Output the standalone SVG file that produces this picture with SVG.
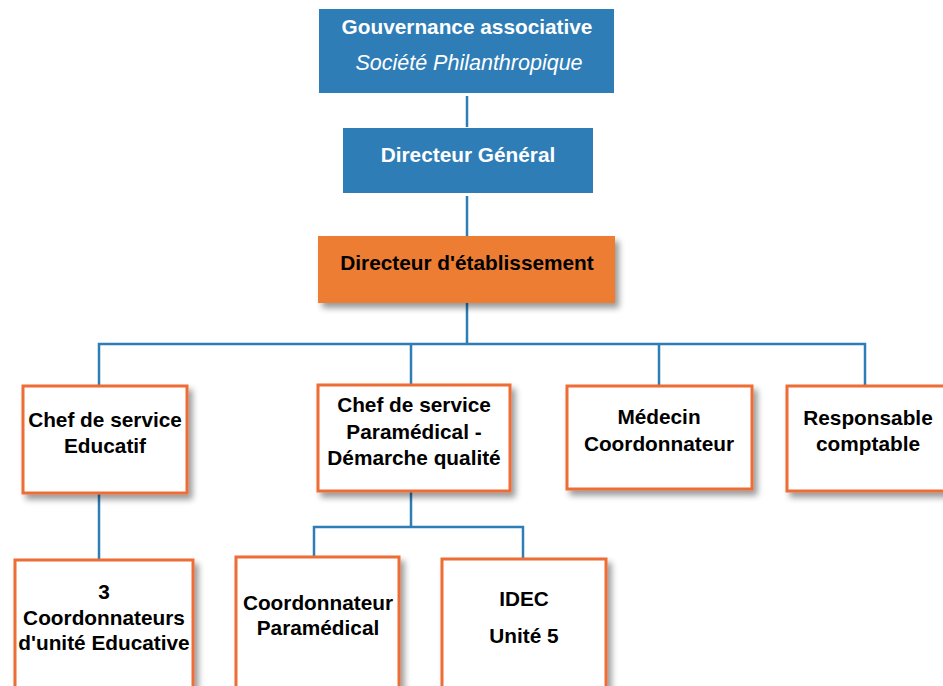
<svg xmlns="http://www.w3.org/2000/svg" width="943" height="686" viewBox="0 0 943 686">
<style>
.t{font-family:"Liberation Sans",Arial,sans-serif;font-weight:bold;font-size:20.8px;text-anchor:middle;fill:#000}
.w{fill:#fff}
.i{font-weight:normal;font-style:italic;font-size:21.5px}
.blue{fill:#2E7DB7}
.ob{fill:#fff;stroke:#EE6C34;stroke-width:3}
.c{fill:none;stroke:#2E7DB7;stroke-width:2.5}
</style>
<defs>
<filter id="sh" x="-10%" y="-10%" width="130%" height="130%">
<feGaussianBlur in="SourceAlpha" stdDeviation="3"/>
<feOffset dx="4" dy="5" result="b"/>
<feComponentTransfer><feFuncA type="linear" slope="0.4"/></feComponentTransfer>
<feMerge><feMergeNode/><feMergeNode in="SourceGraphic"/></feMerge>
</filter>
</defs>
<g id="connectors">
<path class="c" d="M467 96V127M467 196V236M467 303V344M99 386V344H865V386M411 344V385M659 344V386M411 491V527M314 557V527H523V559M99 493V560"/>
</g>
<g id="gouvernance">
<rect class="blue" x="319" y="9" width="295" height="84"/>
<text class="t w" x="467" y="34">Gouvernance associative</text>
<text class="t w i" x="469" y="70">Société Philanthropique</text>
</g>
<g id="dg">
<rect class="blue" x="343" y="128" width="250" height="65"/>
<text class="t w" x="468" y="162">Directeur Général</text>
</g>
<g id="de">
<rect x="318" y="236" width="297" height="67" fill="#ED7D31" filter="url(#sh)"/>
<text class="t" x="467" y="270">Directeur d'établissement</text>
</g>
<g id="cse">
<rect class="ob" x="23" y="386" width="164" height="107" filter="url(#sh)"/>
<text class="t" x="105" y="427">Chef de service</text>
<text class="t" x="105" y="453">Educatif</text>
</g>
<g id="csp">
<rect class="ob" x="318" y="385" width="192" height="106" filter="url(#sh)"/>
<text class="t" x="414" y="412">Chef de service</text>
<text class="t" x="414" y="439">Paramédical -</text>
<text class="t" x="414" y="465">Démarche qualité</text>
</g>
<g id="medecin">
<rect class="ob" x="567" y="386" width="185" height="103" filter="url(#sh)"/>
<text class="t" x="659" y="424">Médecin</text>
<text class="t" x="659" y="451">Coordonnateur</text>
</g>
<g id="resp">
<rect class="ob" x="787" y="386" width="162" height="105" filter="url(#sh)"/>
<text class="t" x="868" y="425">Responsable</text>
<text class="t" x="868" y="451">comptable</text>
</g>
<g id="coordedu">
<rect class="ob" x="15" y="560" width="178" height="140" filter="url(#sh)"/>
<text class="t" x="104" y="599">3</text>
<text class="t" x="104" y="625">Coordonnateurs</text>
<text class="t" x="104" y="650">d'unité Educative</text>
</g>
<g id="coordpara">
<rect class="ob" x="236" y="557" width="163" height="140" filter="url(#sh)"/>
<text class="t" x="318" y="610">Coordonnateur</text>
<text class="t" x="318" y="635">Paramédical</text>
</g>
<g id="idec">
<rect class="ob" x="442" y="559" width="164" height="140" filter="url(#sh)"/>
<text class="t" x="524" y="606">IDEC</text>
<text class="t" x="524" y="643">Unité 5</text>
</g>
</svg>
